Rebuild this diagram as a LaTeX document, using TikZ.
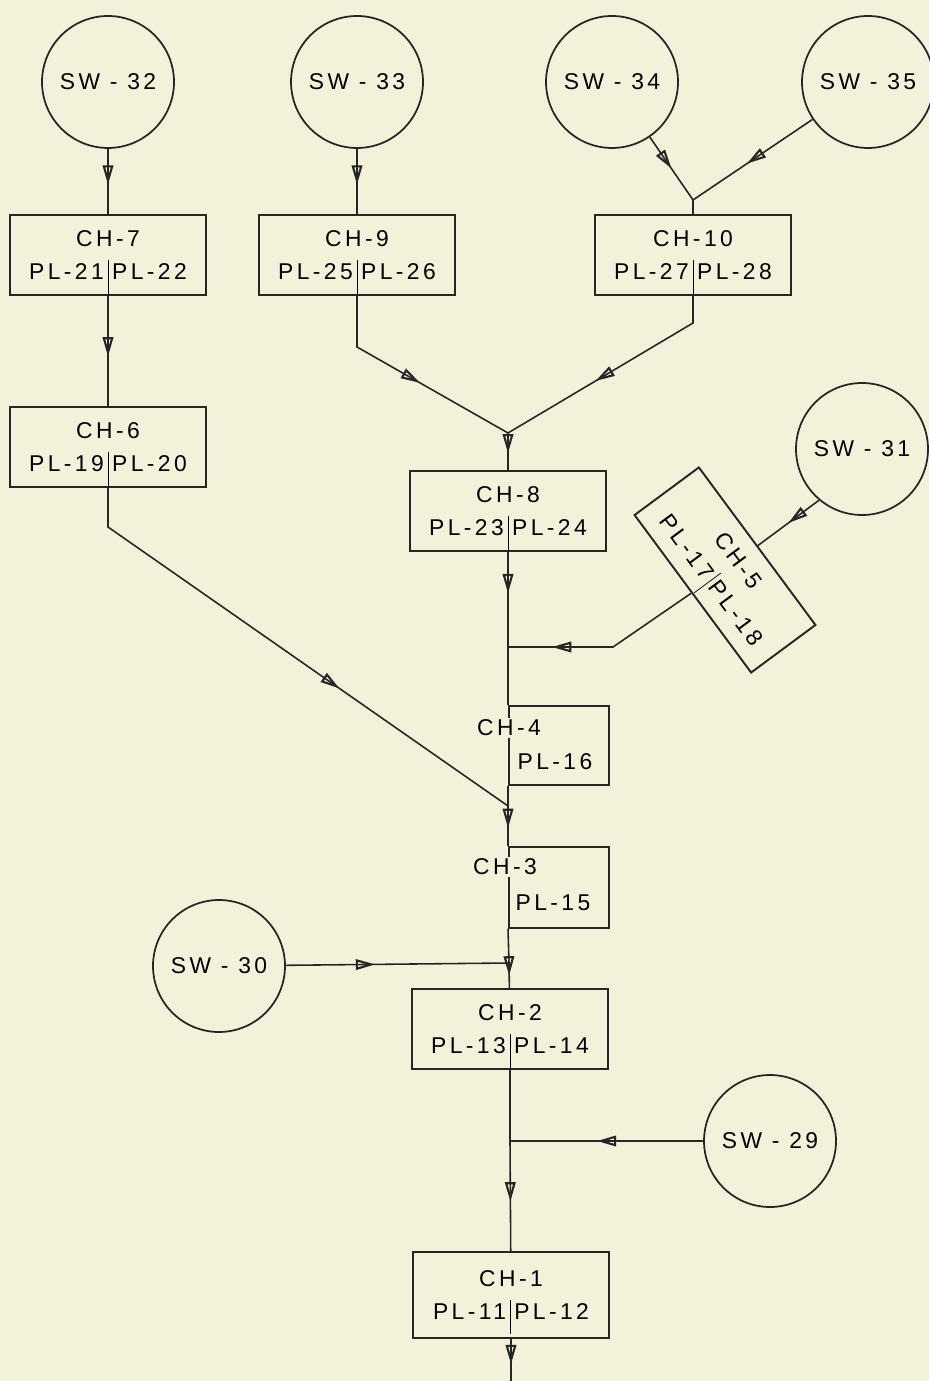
\documentclass[tikz,border=0pt]{standalone}
\usepackage{fontspec}
\setmainfont{Liberation Sans}[LetterSpace=15]
\usetikzlibrary{arrows.meta,positioning,calc,decorations.markings}
\definecolor{paper}{HTML}{F4F1DA}
\definecolor{ink}{HTML}{262626}
\newcommand{\plbar}{\,\smash{\vrule height 11pt depth 8pt}\,}

\begin{document}
\begin{tikzpicture}[x=0.02cm, y=-0.02cm,
  sw/.style={draw, circle, line width=1pt, minimum size=2.64cm, inner sep=0pt, font=\fontsize{13}{16}\selectfont},
  chbox/.style={draw, line width=1.1pt, minimum width=3.92cm, minimum height=1.6cm, inner sep=0pt, align=center, font=\fontsize{13}{19}\selectfont},
  chside/.style={draw, line width=1.1pt, anchor=north west, minimum width=2cm, minimum height=1.58cm, inner sep=0pt},
  lbl/.style={inner sep=1pt, font=\fontsize{13}{16}\selectfont},
  flow/.style={postaction={decorate}, decoration={markings, mark=at position #1 with {\arrow{Triangle[open, length=11pt, width=6pt, line width=1.2pt]}}}},
  flow/.default=0.5, draw=ink, line width=0.9pt]
\fill[paper] (0,0) rectangle (929,1381);
\useasboundingbox (0,0) rectangle (929,1381);
% sources
\node[sw] (sw32) at (108,82) {SW - 32};
\node[sw] (sw33) at (357,82) {SW - 33};
\node[sw] (sw34) at (612,82) {SW - 34};
\node[sw] (sw35) at (868,82) {SW - 35};
\node[sw] (sw31) at (862,449) {SW - 31};
\node[sw] (sw30) at (219,966) {SW - 30};
\node[sw] (sw29) at (770,1141) {SW - 29};
% channels
\node[chbox] (ch7) at (108,255) {CH-7\\PL-21\plbar PL-22};
\node[chbox] (ch9) at (357,255) {CH-9\\PL-25\plbar PL-26};
\node[chbox] (ch10) at (693,255) {CH-10\\PL-27\plbar PL-28};
\node[chbox] (ch6) at (108,447) {CH-6\\PL-19\plbar PL-20};
\node[chbox] (ch8) at (508,511) {CH-8\\PL-23\plbar PL-24};
\node[chbox, rotate=-53.5] (ch5) at (725,570) {CH-5\\PL-17\plbar PL-18};
\node[chside] (ch4) at (508,705) {};
\node[lbl, fill=paper] (ch4a) at (509,728) {CH-4};
\node[lbl] (ch4b) at (555,762) {PL-16};
\node[chside, minimum height=1.62cm] (ch3) at (508,846) {};
\node[lbl, fill=paper] (ch3a) at (505,867) {CH-3};
\node[lbl] (ch3b) at (553,903) {PL-15};
\node[chbox] (ch2) at (510,1029) {CH-2\\PL-13\plbar PL-14};
\node[chbox, minimum height=1.72cm] (ch1) at (511,1295) {CH-1\\PL-11\plbar PL-12};
% junctions and bends
\coordinate (j10) at (693,200);
\coordinate (b9) at (357,347);
\coordinate (b10) at (693,323);
\coordinate (j8) at (508,433);
\coordinate (b6) at (108,527);
\coordinate (b5) at (613,647);
\coordinate (j4) at (508,647);
\coordinate (j3) at (508,806);
\coordinate (j2) at (509,963);
\coordinate (j1) at (510,1141);
\coordinate (out) at (511,1381);
% flow lines
\draw[flow=0.55] (sw32) -- (ch7);
\draw[flow=0.55] (sw33) -- (ch9);
\draw[flow=0.5] (sw34) -- (j10);
\draw[flow=0.55] (sw35) -- (j10);
\draw (j10) -- (ch10);
\draw[flow=0.55] (ch7) -- (ch6);
\draw[flow=0.55] (ch9) -- (b9) -- (j8);
\draw[flow=0.58] (ch10) -- (b10) -- (j8);
\draw[flow=0.55] (j8) -- (ch8);
\draw[flow=0.27] (ch8) -- (ch4.north west);
\draw[flow=0.5] (sw31.230) -- (ch5);
\draw[flow=0.78] (ch5) -- (b5) -- (j4);
\draw[flow=0.61] (ch6) -- (b6) -- (j3);
\draw (ch4.south west) -- (j3);
\draw[flow=0.55] (j3) -- (ch3.north west);
\draw (ch3.south west) -- (j2);
\draw[flow=0.5] (j2) -- (ch2);
\draw[flow=0.4] (sw30) -- (j2);
\draw (ch2) -- (j1);
\draw[flow=0.55] (sw29) -- (j1);
\draw[flow=0.55] (j1) -- (ch1);
\draw[flow=0.6] (ch1) -- (out);
\end{tikzpicture}
\end{document}
